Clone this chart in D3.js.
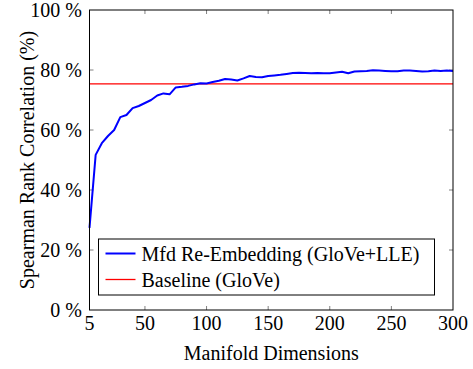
<!DOCTYPE html>
<html lang="en">
  <head>
    <meta charset="UTF-8" />
    <title>Manifold Dimensions vs Spearman</title>
    <script src="https://d3js.org/d3.v7.min.js"></script>
    <style>
      body { margin: 0; background: #fff; }
      text { font-family: "Liberation Serif", "DejaVu Serif", serif; fill: #000; }
    </style>
  </head>
  <body>
    <div class="chart"></div>
  </body>

  <script>
    // dimensions (x) and correlation in percent (y)
    var dims = [5, 10, 15, 20, 25, 30, 35, 40, 45, 50, 55, 60, 65, 70, 75, 80, 85, 90, 95, 100,
      105, 110, 115, 120, 125, 130, 135, 140, 145, 150, 155, 160, 165, 170, 175, 180, 185, 190, 195, 200,
      205, 210, 215, 220, 225, 230, 235, 240, 245, 250, 255, 260, 265, 270, 275, 280, 285, 290, 295, 300];
    var mfdScores = [27.4, 51.7, 55.6, 58.0, 60.0, 64.3, 65.0, 67.3, 68.0, 69.0, 70.0, 71.5, 72.2, 71.9, 74.2, 74.4, 74.7, 75.2, 75.6, 75.5,
      76.0, 76.4, 77.0, 76.8, 76.5, 77.2, 78.0, 77.7, 77.6, 78.0, 78.2, 78.4, 78.7, 79.0, 79.1, 79.0, 78.9, 79.0, 78.9, 78.9,
      79.2, 79.4, 78.9, 79.5, 79.6, 79.7, 79.9, 79.8, 79.7, 79.6, 79.6, 79.8, 79.8, 79.7, 79.5, 79.6, 79.8, 79.7, 79.8, 79.7];
    var baseline = 75.4;
    var xTicks = [5, 50, 100, 150, 200, 250, 300];
    var yTicks = [0, 20, 40, 60, 80, 100];
    var legendLabels = ["Mfd Re-Embedding (GloVe+LLE)", "Baseline (GloVe)"];
    var colors = ["#0000ff", "#ff0000"];

    var margin = { top: 10, right: 20, bottom: 59, left: 89.5 };
    var width = 473 - margin.left - margin.right;
    var height = 369 - margin.top - margin.bottom;

    var svg = d3.select(".chart").append("svg")
      .attr("width", 473)
      .attr("height", 369);

    var g = svg.append("g")
      .attr("transform", "translate(" + margin.left + "," + margin.top + ")");

    var x = d3.scaleLinear().domain([5, 300]).range([0, width]);
    var y = d3.scaleLinear().domain([0, 100]).range([height, 0]);

    // inward ticks on all four sides, like pgfplots
    var tickLen = 4;
    var ticks = g.append("g").attr("stroke", "#808080").attr("stroke-width", 1);
    xTicks.slice(1, -1).forEach(function (t) {
      ticks.append("line").attr("x1", x(t)).attr("x2", x(t)).attr("y1", height).attr("y2", height - tickLen);
      ticks.append("line").attr("x1", x(t)).attr("x2", x(t)).attr("y1", 0).attr("y2", tickLen);
    });
    yTicks.slice(1, -1).forEach(function (t) {
      ticks.append("line").attr("x1", 0).attr("x2", tickLen).attr("y1", y(t)).attr("y2", y(t));
      ticks.append("line").attr("x1", width).attr("x2", width - tickLen).attr("y1", y(t)).attr("y2", y(t));
    });

    // baseline
    g.append("line")
      .attr("x1", x(5)).attr("x2", x(300))
      .attr("y1", y(baseline)).attr("y2", y(baseline))
      .attr("stroke", colors[1]).attr("stroke-width", 1.3);

    // main curve
    var line = d3.line()
      .x(function (d, i) { return x(dims[i]); })
      .y(function (d) { return y(d); });
    g.append("path")
      .datum(mfdScores)
      .attr("fill", "none")
      .attr("stroke", colors[0])
      .attr("stroke-width", 2)
      .attr("stroke-linejoin", "round")
      .attr("d", line);

    // frame
    g.append("rect")
      .attr("width", width).attr("height", height)
      .attr("fill", "none").attr("stroke", "#000").attr("stroke-width", 1);

    // tick labels
    g.selectAll(".xl").data(xTicks).enter().append("text")
      .attr("x", function (d) { return x(d); })
      .attr("y", height + 20)
      .attr("text-anchor", "middle")
      .style("font-size", "20px")
      .text(function (d) { return d; });

    g.selectAll(".yl").data(yTicks).enter().append("text")
      .attr("x", -7.5)
      .attr("y", function (d) { return y(d) + 7; })
      .attr("text-anchor", "end")
      .style("font-size", "20px")
      .text(function (d) { return d + " %"; });

    // axis titles
    g.append("text")
      .attr("x", width / 2)
      .attr("y", height + 50)
      .attr("text-anchor", "middle")
      .style("font-size", "20px")
      .text("Manifold Dimensions");

    g.append("text")
      .attr("transform", "translate(" + (-56) + "," + (height / 2) + ") rotate(-90)")
      .attr("text-anchor", "middle")
      .style("font-size", "20px")
      .text("Spearman Rank Correlation (%)");

    // legend
    var legend = g.append("g").attr("transform", "translate(9," + 229 + ")");
    legend.append("rect")
      .attr("width", 336).attr("height", 56)
      .attr("fill", "#fff").attr("stroke", "#000").attr("stroke-width", 1);
    legendLabels.forEach(function (lab, i) {
      var cy = 14.5 + i * 26;
      legend.append("line")
        .attr("x1", 7).attr("x2", 37).attr("y1", cy).attr("y2", cy)
        .attr("stroke", colors[i]).attr("stroke-width", i === 0 ? 2 : 1.3);
      legend.append("text")
        .attr("x", 43).attr("y", cy + 7)
        .style("font-size", "20px")
        .text(lab);
    });
  </script>
</html>
